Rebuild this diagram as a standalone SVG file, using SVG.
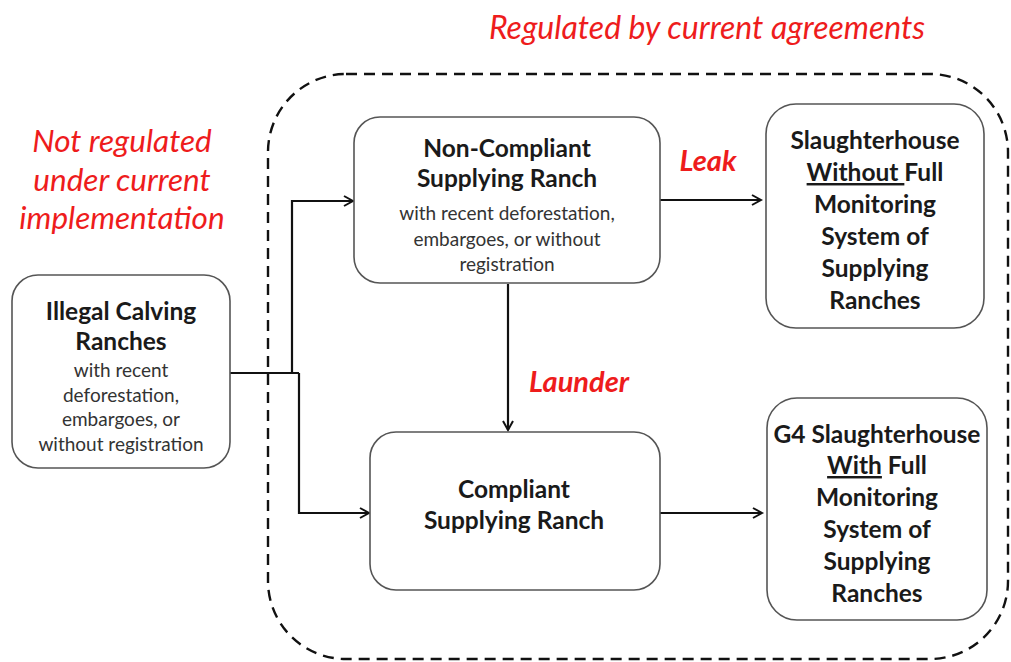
<svg xmlns="http://www.w3.org/2000/svg" width="1011" height="662" viewBox="0 0 1011 662">
<style>
.box{fill:#fff;stroke:#555;stroke-width:1.6}
.t{font-family:Lato,"Open Sans","Liberation Sans",sans-serif;fill:#1a1a1a;text-anchor:middle}
.b{font-weight:bold;font-size:24.5px}
.s{font-size:19px;fill:#333}
.red{font-family:Lato,"Open Sans","Liberation Sans",sans-serif;fill:#ee1c1c;font-style:italic;text-anchor:middle}
.conn{fill:none;stroke:#111;stroke-width:2.2}
.u{text-decoration:underline}
</style>
<defs>
<marker id="ah" markerWidth="12" markerHeight="12" refX="10" refY="6" orient="auto" markerUnits="userSpaceOnUse">
<path d="M1,1 L10,6 L1,11" fill="none" stroke="#111" stroke-width="2"/>
</marker>
</defs>
<rect width="1011" height="662" fill="#fff"/>
<g id="region">
<rect x="268" y="74" width="740" height="585" rx="78" ry="78" fill="none" stroke="#111" stroke-width="2.4" stroke-dasharray="11,7"/>
</g>
<g id="labels">
<text class="red" x="707" y="39" font-size="32">Regulated by current agreements</text>
<text class="red" x="122" y="152" font-size="31.5">Not regulated</text>
<text class="red" x="122" y="191" font-size="31.5">under current</text>
<text class="red" x="122" y="229" font-size="31.5">implementation</text>
<text class="red" x="708" y="171" font-size="29" font-weight="bold">Leak</text>
<text class="red" x="579" y="392" font-size="29" font-weight="bold">Launder</text>
</g>
<g id="connectors">
<path class="conn" d="M230,373 H299"/>
<path class="conn" d="M292,373 V201 H353" marker-end="url(#ah)"/>
<path class="conn" d="M299,373 V513 H369" marker-end="url(#ah)"/>
<path class="conn" d="M660,200 H761" marker-end="url(#ah)"/>
<path class="conn" d="M508,284 V430" marker-end="url(#ah)"/>
<path class="conn" d="M660,513 H762" marker-end="url(#ah)"/>
</g>
<g id="illegal">
<rect class="box" x="12" y="275" width="218" height="193" rx="26"/>
<text class="t b" x="121" y="320">Illegal Calving</text>
<text class="t b" x="121" y="350">Ranches</text>
<text class="t s" x="121" y="377">with recent</text>
<text class="t s" x="121" y="402">deforestation,</text>
<text class="t s" x="121" y="426">embargoes, or</text>
<text class="t s" x="121" y="451">without registration</text>
</g>
<g id="noncompliant">
<rect class="box" x="354" y="117" width="306" height="166" rx="26"/>
<text class="t b" x="507" y="157">Non-Compliant</text>
<text class="t b" x="507" y="187">Supplying Ranch</text>
<text class="t s" x="507" y="220">with recent deforestation,</text>
<text class="t s" x="507" y="246">embargoes, or without</text>
<text class="t s" x="507" y="271">registration</text>
</g>
<g id="compliant">
<rect class="box" x="370" y="432" width="290" height="158" rx="26"/>
<text class="t b" x="514" y="498">Compliant</text>
<text class="t b" x="514" y="529">Supplying Ranch</text>
</g>
<g id="slaughter">
<rect class="box" x="766" y="104" width="218" height="224" rx="30"/>
<text class="t b" x="875" y="149">Slaughterhouse</text>
<text class="t b" x="875" y="181"><tspan class="u">Without </tspan>Full</text>
<text class="t b" x="875" y="213">Monitoring</text>
<text class="t b" x="875" y="245">System of</text>
<text class="t b" x="875" y="277">Supplying</text>
<text class="t b" x="875" y="309">Ranches</text>
</g>
<g id="g4">
<rect class="box" x="767" y="398" width="220" height="222" rx="30"/>
<text class="t b" x="877" y="443">G4 Slaughterhouse</text>
<text class="t b" x="877" y="474"><tspan class="u">With</tspan> Full</text>
<text class="t b" x="877" y="506">Monitoring</text>
<text class="t b" x="877" y="538">System of</text>
<text class="t b" x="877" y="570">Supplying</text>
<text class="t b" x="877" y="602">Ranches</text>
</g>
</svg>
